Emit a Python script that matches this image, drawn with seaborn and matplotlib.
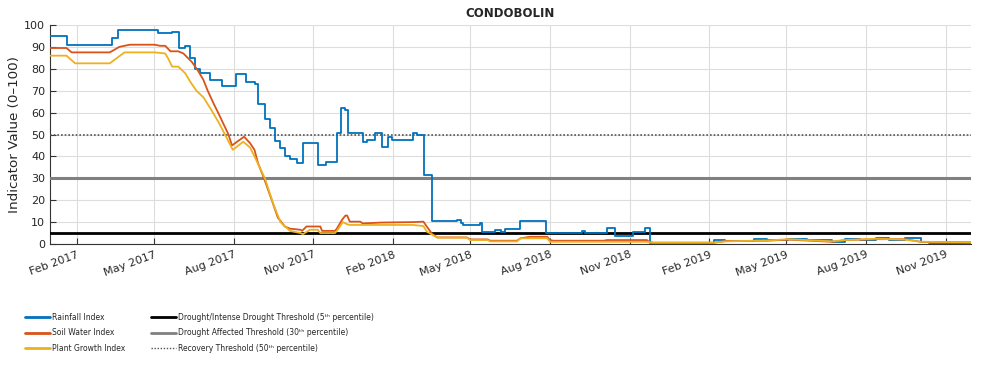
import pandas as pd
import numpy as np
import matplotlib
matplotlib.use('Agg')
import matplotlib.pyplot as plt
import matplotlib.dates as mdates
from matplotlib.lines import Line2D
import seaborn as sns

# breakpoints
rain_dates = ['2017-01-01', '2017-01-21', '2017-03-13', '2017-03-21', '2017-05-06', '2017-05-22',
              '2017-05-30', '2017-06-06', '2017-06-12', '2017-06-17', '2017-06-23', '2017-07-05',
              '2017-07-19', '2017-08-04', '2017-08-15', '2017-08-26', '2017-08-29', '2017-09-06',
              '2017-09-12', '2017-09-18', '2017-09-24', '2017-09-29', '2017-10-05', '2017-10-13',
              '2017-10-20', '2017-11-06', '2017-11-16', '2017-11-28', '2017-12-03', '2017-12-08',
              '2017-12-11', '2017-12-28', '2018-01-02', '2018-01-11', '2018-01-19', '2018-01-26',
              '2018-01-31', '2018-02-24', '2018-03-01', '2018-03-09', '2018-03-18', '2018-04-16',
              '2018-04-20', '2018-04-23', '2018-05-12', '2018-05-15', '2018-05-30', '2018-06-05',
              '2018-06-10', '2018-06-27', '2018-07-27', '2018-09-07', '2018-09-10', '2018-10-06',
              '2018-10-15', '2018-11-05', '2018-11-19', '2018-11-25', '2019-02-06', '2019-02-19',
              '2019-03-24', '2019-04-09', '2019-05-03', '2019-05-25', '2019-06-23', '2019-07-08',
              '2019-07-25', '2019-08-12', '2019-08-27', '2019-09-15', '2019-10-03', '2019-10-12',
              '2019-11-30']
rain_vals = [95, 91, 94, 97.5, 96.5, 97,
             89.5, 90.5, 85, 80, 78, 75,
             72, 77.5, 74, 73, 64, 57,
             53, 47, 44, 40, 39, 37,
             46, 36, 37.5, 50.5, 62, 61,
             50.5, 46.7, 47.5, 50.8, 44.4, 48.7,
             47.5, 50.5, 50, 31.5, 10.5, 11,
             9.7, 8.7, 9.4, 5.6, 6.4, 5.6,
             6.7, 10.5, 5.2, 6, 5.2, 7.2,
             3.6, 5.6, 7.2, 0.6, 1.8, 1.3,
             2.3, 1.8, 2.4, 2.0, 0.8, 2.3,
             1.8, 2.6, 1.7, 2.6, 0.8, 0.3,
             0.3]

soil_dates = ['2017-01-01', '2017-01-20', '2017-01-26', '2017-03-11', '2017-03-22', '2017-04-03',
              '2017-05-02', '2017-05-08', '2017-05-14', '2017-05-20', '2017-05-29', '2017-06-04',
              '2017-06-09', '2017-06-14', '2017-06-21', '2017-06-27', '2017-07-02', '2017-07-09',
              '2017-07-14', '2017-07-26', '2017-07-30', '2017-08-13', '2017-08-20', '2017-08-25',
              '2017-08-29', '2017-09-05', '2017-09-14', '2017-09-21', '2017-09-29', '2017-10-05',
              '2017-10-17', '2017-10-19', '2017-10-24', '2017-11-09', '2017-11-11', '2017-11-26',
              '2017-11-28', '2017-12-04', '2017-12-08', '2017-12-10', '2017-12-13', '2017-12-25',
              '2017-12-28', '2018-01-19', '2018-02-24', '2018-03-08', '2018-03-12', '2018-03-18',
              '2018-03-24', '2018-04-27', '2018-05-01', '2018-05-21', '2018-05-24', '2018-06-24',
              '2018-06-28', '2018-07-09', '2018-07-29', '2018-08-01', '2018-08-05', '2018-10-02',
              '2018-10-06', '2018-11-21', '2018-11-23', '2018-11-28', '2019-02-06', '2019-02-19',
              '2019-04-09', '2019-05-03', '2019-06-23', '2019-07-08', '2019-08-12', '2019-09-15',
              '2019-10-03', '2019-11-30']
soil_vals = [89.5, 89.5, 87.5, 87.5, 90, 91,
             91, 90.5, 90.5, 88, 88, 87,
             85, 83, 79, 75, 70, 64,
             60, 50, 45, 49, 46, 43,
             37, 30, 20, 12, 8, 7,
             6.5, 6, 8, 8, 6, 6,
             7, 11, 13, 13, 10.2, 10.2,
             9.4, 9.8, 10, 10.2, 7.9, 4.6,
             3, 3, 2.1, 2.1, 1.5, 1.5,
             2.6, 3.3, 3.3, 1.8, 1.5, 1.5,
             1.8, 1.8, 1.1, 0.6, 0.6, 1.3,
             1.5, 2.0, 1.0, 1.8, 2.2, 2.2,
             1.0, 0.8]

plant_dates = ['2017-01-01', '2017-01-20', '2017-01-30', '2017-03-11', '2017-03-28', '2017-05-02',
               '2017-05-14', '2017-05-17', '2017-05-22', '2017-05-29', '2017-06-06', '2017-06-12',
               '2017-06-19', '2017-06-27', '2017-07-05', '2017-07-14', '2017-07-22', '2017-07-31',
               '2017-08-12', '2017-08-20', '2017-08-25', '2017-09-06', '2017-09-16', '2017-09-24',
               '2017-10-05', '2017-10-17', '2017-10-20', '2017-10-28', '2017-11-06', '2017-11-09',
               '2017-11-26', '2017-11-30', '2017-12-05', '2017-12-10', '2017-12-13', '2018-02-24',
               '2018-03-08', '2018-03-12', '2018-03-19', '2018-03-24', '2018-04-27', '2018-05-01',
               '2018-05-21', '2018-05-24', '2018-06-24', '2018-06-28', '2018-07-29', '2018-08-01',
               '2018-11-21', '2018-11-28', '2019-02-06', '2019-02-19', '2019-04-09', '2019-05-03',
               '2019-06-23', '2019-07-08', '2019-08-12', '2019-09-15', '2019-10-03', '2019-11-30']
plant_vals = [86, 86, 82.5, 82.5, 87.5, 87.5,
              87, 85, 81, 81, 78, 74,
              70, 67, 62, 56, 50, 43,
              46.7, 44, 40, 30, 18, 10,
              6, 5, 4.5, 6.5, 6.5, 5,
              5, 7, 10, 9, 8.7, 8.7,
              8.2, 5.6, 4.1, 2.9, 2.9, 1.8,
              1.8, 1.2, 1.2, 2.6, 2.6, 1.0,
              1.0, 0.6, 0.6, 1.2, 1.6, 2.2,
              1.2, 1.8, 2.4, 2.0, 1.0, 0.8]

thresholds = [5, 30, 50]
threshold_labels = ['Drought/Intense Drought Threshold (5ᵗʰ percentile)',
                    'Drought Affected Threshold (30ᵗʰ percentile)',
                    'Recovery Threshold (50ᵗʰ percentile)']
series_labels = ['Rainfall Index', 'Soil Water Index', 'Plant Growth Index']

blue, red, yellow = '#0072BD', '#D95319', '#EDB120'

rain = pd.DataFrame({'date': pd.to_datetime(rain_dates), 'value': rain_vals})
soil = pd.DataFrame({'date': pd.to_datetime(soil_dates), 'value': soil_vals})
plant = pd.DataFrame({'date': pd.to_datetime(plant_dates), 'value': plant_vals})

sns.set_style('whitegrid')
plt.rcParams['font.family'] = ['DejaVu Sans']

fig = plt.figure(figsize=(10, 3.65), dpi=100)
ax = fig.add_axes([0.05, 0.3315, 0.921, 0.60])

ax.axhline(thresholds[0], color='black', lw=2, zorder=3)
ax.axhline(thresholds[1], color='#808080', lw=2.2, zorder=3)
ax.axhline(thresholds[2], color='#555555', lw=1.2, ls=(0, (1, 1.2)), zorder=3)

sns.lineplot(data=rain, x='date', y='value', ax=ax, color=blue, lw=1.3,
             drawstyle='steps-post', zorder=4)
sns.lineplot(data=soil, x='date', y='value', ax=ax, color=red, lw=1.3, zorder=4)
sns.lineplot(data=plant, x='date', y='value', ax=ax, color=yellow, lw=1.3, zorder=4)

ax.set_xlim(pd.Timestamp('2017-01-01'), pd.Timestamp('2019-11-30'))
ax.set_ylim(0, 100)
ax.set_yticks(range(0, 101, 10))
ax.xaxis.set_major_locator(mdates.MonthLocator(bymonth=[2, 5, 8, 11]))
ax.xaxis.set_major_formatter(mdates.DateFormatter('%b %Y'))
plt.setp(ax.get_xticklabels(), rotation=20, ha='right', rotation_mode='anchor')

ax.grid(True, color='#dddddd', lw=0.8)
for s in ['top', 'right']:
    ax.spines[s].set_visible(False)
for s in ['left', 'bottom']:
    ax.spines[s].set_color('#333333')
    ax.spines[s].set_linewidth(0.8)
ax.tick_params(axis='both', direction='in', length=4, width=0.8, colors='#333333',
               labelsize=8, labelcolor='#262626', left=True, bottom=True)
ax.tick_params(axis='x', pad=4)
ax.set_xlabel('')
ax.set_ylabel('Indicator Value (0–100)', fontsize=9.7, color='#262626', labelpad=2)
ax.set_title('CONDOBOLIN', fontsize=8.5, fontweight='bold', pad=6)

handles = [Line2D([], [], color=blue, lw=2),
           Line2D([], [], color=red, lw=2),
           Line2D([], [], color=yellow, lw=2),
           Line2D([], [], color='black', lw=2),
           Line2D([], [], color='#808080', lw=2),
           Line2D([], [], color='#555555', lw=1, ls=(0, (1, 1.2)))]
fig.legend(handles, series_labels + threshold_labels, ncol=2, loc='upper left',
           bbox_to_anchor=(0.022, 0.152), frameon=False, fontsize=5.5,
           handlelength=3.3, handletextpad=0.2, labelspacing=0.88, columnspacing=3.4,
           borderaxespad=0)

fig.savefig('out.png', dpi=100)
